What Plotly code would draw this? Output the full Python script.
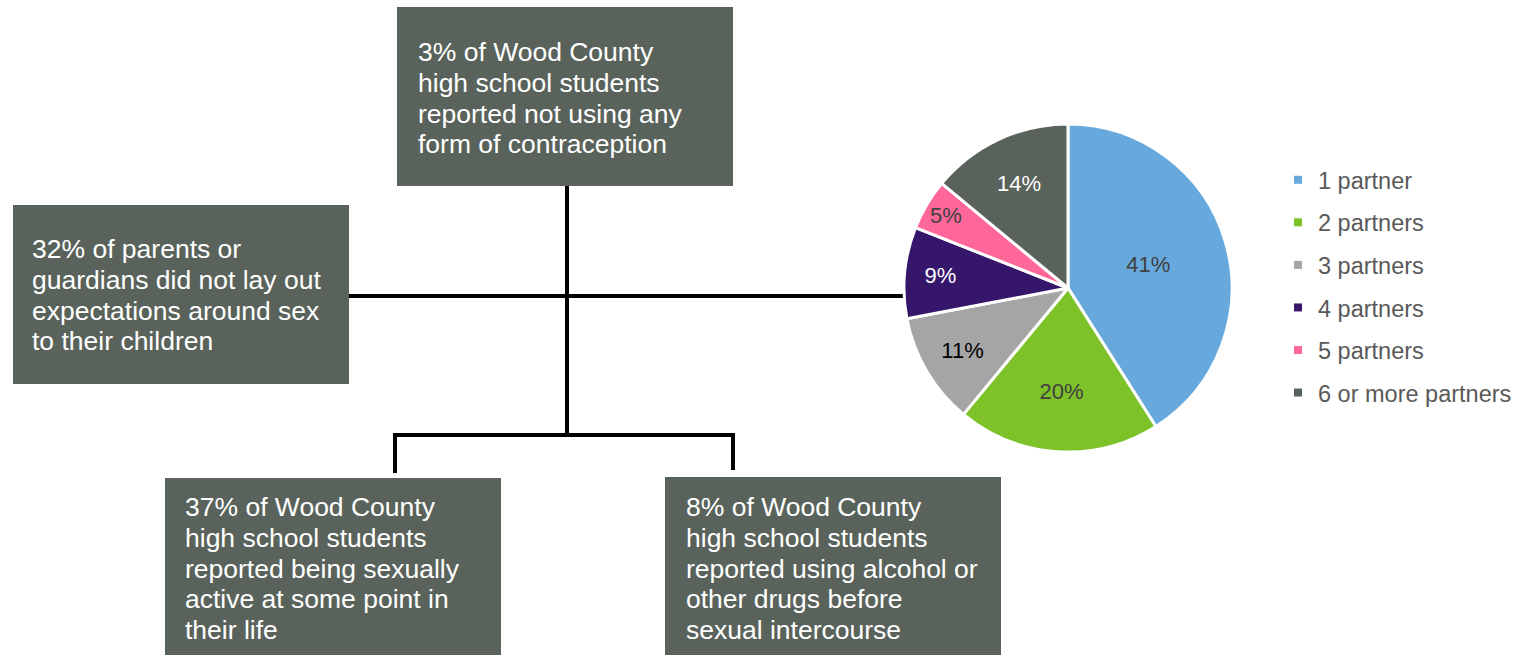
import plotly.graph_objects as go

# ---- data ----
partner_labels = ["1 partner", "2 partners", "3 partners", "4 partners", "5 partners", "6 or more partners"]
partner_pct = [41, 20, 11, 9, 5, 14]
slice_colors = ["#67A9DC", "#7DC229", "#A5A5A5", "#35166A", "#FF6699", "#5A635B"]
label_colors = ["#404040", "#404040", "#000000", "#FFFFFF", "#404040", "#FFFFFF"]

box_top_lines = ["3% of Wood County", "high school students", "reported not using any", "form of contraception"]
box_left_lines = ["32% of parents or", "guardians did not lay out", "expectations around sex", "to their children"]
box_bl_lines = ["37% of Wood County", "high school students", "reported being sexually", "active at some point in", "their life"]
box_br_lines = ["8% of Wood County", "high school students", "reported using alcohol or", "other drugs before", "sexual intercourse"]

W, H = 1535, 655
BOX = "#5A635B"
FONT = "Liberation Sans, Arial, sans-serif"


def px(x):
    return x / W


def py(y):
    return 1 - y / H


fig = go.Figure()

fig.add_trace(go.Pie(
    labels=partner_labels,
    values=partner_pct,
    sort=False,
    direction="clockwise",
    rotation=0,
    marker=dict(colors=slice_colors, line=dict(color="white", width=3)),
    texttemplate="%{value}%",
    textposition="inside",
    insidetextorientation="horizontal",
    textfont=dict(family=FONT, size=22, color=label_colors),
    showlegend=False,
    hoverinfo="label+value",
    domain=dict(x=[px(904), px(1232)], y=[py(452), py(124)]),
))

for lab, col in zip(partner_labels, slice_colors):
    fig.add_trace(go.Scatter(
        x=[None], y=[None], mode="markers", name=lab, legendgroup=lab,
        marker=dict(symbol="square", size=8, color=col),
    ))

shapes = []
boxes = [(397, 7, 733, 186), (13, 205, 349, 384), (165, 478, 501, 660), (665, 477, 1001, 660)]
for (x0, y0, x1, y1) in boxes:
    shapes.append(dict(type="rect", xref="paper", yref="paper",
                       x0=px(x0), x1=px(x1), y0=py(y1), y1=py(y0),
                       fillcolor=BOX, line=dict(width=0), layer="below"))

line_segs = [
    (567, 186, 567, 435),
    (349, 296, 910, 296),
    (395, 435, 733, 435),
    (395, 433, 395, 473),
    (733, 433, 733, 470),
]
for (x0, y0, x1, y1) in line_segs:
    shapes.append(dict(type="line", xref="paper", yref="paper",
                       x0=px(x0), x1=px(x1), y0=py(y0), y1=py(y1),
                       line=dict(color="black", width=4), layer="below"))

annotations = []
box_lines = [box_top_lines, box_left_lines, box_bl_lines, box_br_lines]
text_start = [(416, 52), (30, 249), (183, 507), (684, 507)]
LINE_GAP = 30.8
for lines, (x, y) in zip(box_lines, text_start):
    for i, ln in enumerate(lines):
        annotations.append(dict(text=ln, xref="paper", yref="paper",
                                x=px(x), y=py(y + i * LINE_GAP), xanchor="left", yanchor="middle",
                                align="left", showarrow=False,
                                font=dict(family=FONT, size=26.5, color="white")))

fig.update_layout(
    width=W, height=H,
    margin=dict(l=0, r=0, t=0, b=0),
    paper_bgcolor="white", plot_bgcolor="white",
    xaxis=dict(visible=False), yaxis=dict(visible=False),
    shapes=shapes, annotations=annotations,
    showlegend=True,
    legend=dict(x=px(1278), y=py(158), xanchor="left", yanchor="top",
                font=dict(family=FONT, size=23.5, color="#595959"),
                tracegroupgap=9, itemwidth=30, bgcolor="rgba(0,0,0,0)",
                itemclick=False, itemdoubleclick=False),
)

fig.write_html("out.html", config={"displayModeBar": False},
               post_script="document.body.style.margin='0';")
